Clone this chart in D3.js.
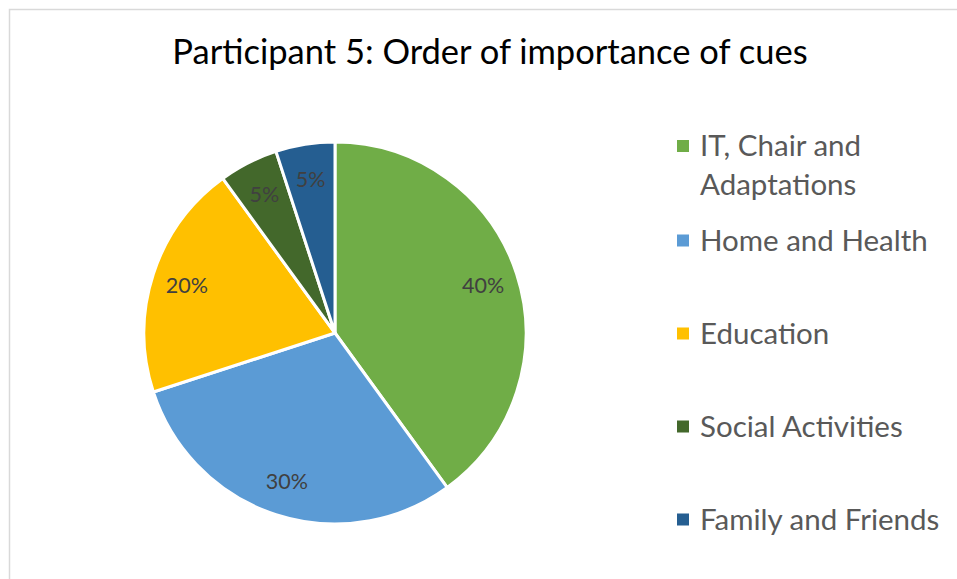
<!DOCTYPE html>
<html><head><meta charset="utf-8">
<script src="https://cdn.jsdelivr.net/npm/d3@7"></script>
<style>body{margin:0;background:#fff}svg{display:block}</style>
</head><body>
<svg id="c" width="957" height="579"></svg>
<script>
const title = "Participant 5: Order of importance of cues";
const categories = ["IT, Chair and Adaptations", "Home and Health", "Education", "Social Activities", "Family and Friends"];
const values = [40, 30, 20, 5, 5];
const labels = ["40%", "30%", "20%", "5%", "5%"];
const colors = ["#70AD47", "#5B9BD5", "#FFC000", "#43682B", "#255E91"];
const legendLines = [["IT, Chair and", "Adaptations"], ["Home and Health"], ["Education"], ["Social Activities"], ["Family and Friends"]];

const svg = d3.select("#c");
const font = "Lato, 'Open Sans', sans-serif";

svg.append("rect").attr("x", 9.5).attr("y", 9.5).attr("width", 980).attr("height", 600)
  .attr("fill", "#fff").attr("stroke", "#d9d9d9").attr("stroke-width", 1.5);

svg.append("text").attr("x", 490).attr("y", 64).attr("text-anchor", "middle")
  .attr("font-family", font).attr("font-size", 34.5).attr("fill", "#000").text(title);

const cx = 335, cy = 333, r = 191;
const pie = d3.pie().sort(null).value(d => d)(values);
const arc = d3.arc().innerRadius(0).outerRadius(r);
const labelArc = d3.arc().innerRadius(r * 0.815).outerRadius(r * 0.815);
const g = svg.append("g").attr("transform", `translate(${cx},${cy})`);
g.selectAll("path").data(pie).join("path")
  .attr("d", arc).attr("fill", (d, i) => colors[i])
  .attr("stroke", "#fff").attr("stroke-width", 3).attr("stroke-linejoin", "round");
g.selectAll("text").data(pie).join("text")
  .attr("transform", d => `translate(${labelArc.centroid(d)})`)
  .attr("text-anchor", "middle").attr("dy", "0.36em")
  .attr("font-family", font).attr("font-size", 21.5).attr("fill", "#404040")
  .text((d, i) => labels[i]);

const legendY = d3.scalePoint().domain(d3.range(1, categories.length)).range([250.5, 529.5]);
const lg = svg.append("g");
categories.forEach((c, i) => {
  const lines = legendLines[i];
  const base = i === 0 ? 156 : legendY(i);
  lg.append("rect").attr("x", 677).attr("y", base - 16).attr("width", 12).attr("height", 12).attr("fill", colors[i]);
  lines.forEach((ln, j) => {
    lg.append("text").attr("x", 700).attr("y", base + j * 38.5)
      .attr("font-family", font).attr("font-size", 29.5).attr("fill", "#595959").text(ln);
  });
});
</script>
</body></html>
